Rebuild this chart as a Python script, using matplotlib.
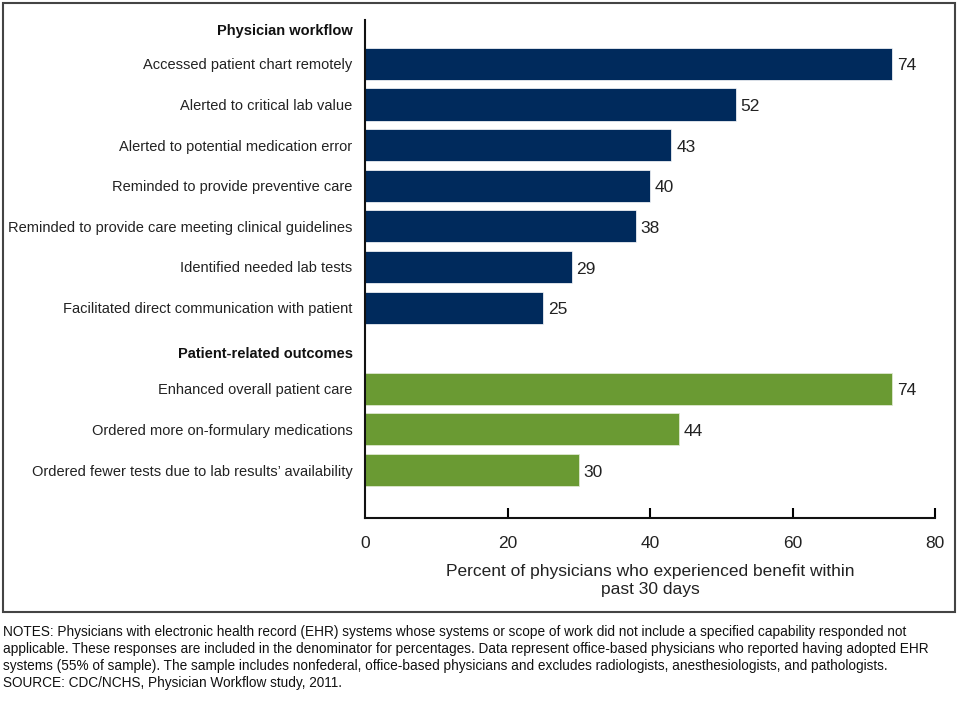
import matplotlib
matplotlib.use("Agg")
import matplotlib.pyplot as plt
from matplotlib.patches import Rectangle

plt.rcParams['font.family'] = ['Liberation Sans', 'DejaVu Sans']

workflow_labels = [
    "Accessed patient chart remotely",
    "Alerted to critical lab value",
    "Alerted to potential medication error",
    "Reminded to provide preventive care",
    "Reminded to provide care meeting clinical guidelines",
    "Identified needed lab tests",
    "Facilitated direct communication with patient",
]
workflow_values = [74, 52, 43, 40, 38, 29, 25]

outcome_labels = [
    "Enhanced overall patient care",
    "Ordered more on-formulary medications",
    "Ordered fewer tests due to lab results\u2019 availability",
]
outcome_values = [74, 44, 30]

group_titles = ["Physician workflow", "Patient-related outcomes"]
x_ticks = [0, 20, 40, 60, 80]
x_label = "Percent of physicians who experienced benefit within\npast 30 days"
notes = ("NOTES: Physicians with electronic health record (EHR) systems whose systems or scope of work did not include a specified capability responded not\n"
         "applicable. These responses are included in the denominator for percentages. Data represent office-based physicians who reported having adopted EHR\n"
         "systems (55% of sample). The sample includes nonfederal, office-based physicians and excludes radiologists, anesthesiologists, and pathologists.\n"
         "SOURCE: CDC/NCHS, Physician Workflow study, 2011.")

navy = "#002a5c"
green = "#6a9a33"

fig = plt.figure(figsize=(9.71, 7.02), dpi=100)
W, H = 971, 702
ax = fig.add_axes([365 / W, 1 - 518 / H, (935 - 365) / W, (518 - 20) / H])

wf_pos = list(range(len(workflow_values)))
oc_pos = [8 + i for i in range(len(outcome_values))]
header_pos = [-0.8, 7.15]

ax.barh(wf_pos, workflow_values, height=0.79, color=navy, edgecolor="white", linewidth=0.5)
ax.barh(oc_pos, outcome_values, height=0.79, color=green, edgecolor="#dfe8d0", linewidth=0.6)

for p, v in zip(wf_pos + oc_pos, workflow_values + outcome_values):
    ax.text(v + 0.7, p + 0.05, str(v), va="center", ha="left", fontsize=12.5, color="#222222")

ax.set_xlim(0, 80)
ax.set_ylim(11.18, -1.08)

ax.set_yticks(wf_pos + oc_pos)
ax.set_yticklabels(workflow_labels + outcome_labels, fontsize=10.5)
ax.tick_params(axis="y", length=0, pad=9, colors="#222222")

for p, t in zip(header_pos, group_titles):
    ax.annotate(t, xy=(0, p), xycoords=("axes fraction", "data"),
                xytext=(-9, 0), textcoords="offset points", ha="right", va="center",
                fontsize=10.5, fontweight="bold", color="#111111")

ax.set_xticks(x_ticks)
ax.set_xticklabels([str(x) for x in x_ticks], fontsize=12.5, color="#222222")
ax.tick_params(axis="x", direction="in", length=7, width=1.5, pad=13)
ax.xaxis.get_major_ticks()[0].tick1line.set_visible(False)
ax.set_xlabel(x_label, fontsize=12.5, color="#222222", labelpad=9, linespacing=1.3)

for s in ["top", "right"]:
    ax.spines[s].set_visible(False)
for s in ["left", "bottom"]:
    ax.spines[s].set_linewidth(1.5)
    ax.spines[s].set_color("#111111")

fig.patches.append(Rectangle((3 / W, 1 - 612 / H), (955 - 3) / W, (612 - 3) / H,
                             transform=fig.transFigure, fill=False,
                             edgecolor="#444444", linewidth=1.5))

fig.text(3 / W, 1 - 625 / H, notes, fontsize=9.8, va="top", ha="left",
         color="#111111", linespacing=1.26)

fig.savefig("out.png", dpi=100, facecolor="white")
